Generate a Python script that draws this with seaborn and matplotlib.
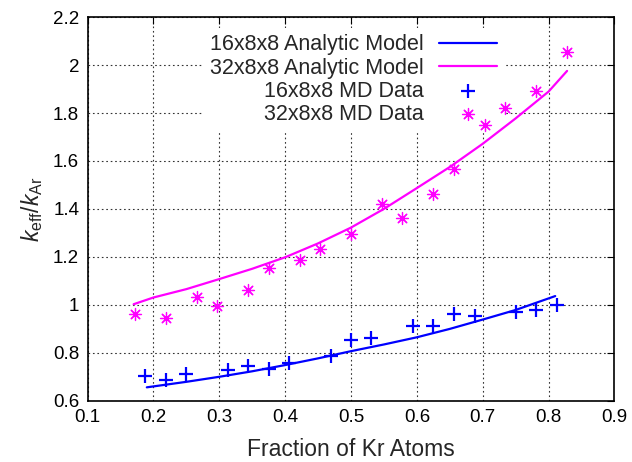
import matplotlib
matplotlib.use("Agg")
import matplotlib.pyplot as plt
import seaborn as sns
import pandas as pd

# Analytic model curves
model16_x = [0.19, 0.25, 0.30, 0.35, 0.40, 0.45, 0.50, 0.55, 0.60, 0.65, 0.70, 0.75, 0.81]
model16_y = [0.655, 0.678, 0.699, 0.722, 0.748, 0.776, 0.806, 0.834, 0.864, 0.899, 0.938, 0.978, 1.036]

model32_x = [0.17, 0.20, 0.25, 0.30, 0.35, 0.40, 0.45, 0.50, 0.55, 0.60, 0.65, 0.70, 0.75, 0.80, 0.828]
model32_y = [1.002, 1.03, 1.065, 1.107, 1.15, 1.198, 1.256, 1.322, 1.40, 1.487, 1.575, 1.672, 1.778, 1.89, 1.976]

# MD simulation results
md16_x = [0.1875, 0.219, 0.25, 0.3125, 0.344, 0.375, 0.406, 0.469, 0.50, 0.531,
          0.594, 0.625, 0.656, 0.6875, 0.75, 0.781, 0.8125]
md16_y = [0.702, 0.686, 0.711, 0.727, 0.744, 0.730, 0.755, 0.786, 0.853, 0.862,
          0.911, 0.912, 0.960, 0.954, 0.968, 0.978, 0.999]

md32_x = [0.172, 0.219, 0.266, 0.297, 0.344, 0.375, 0.422, 0.453, 0.50, 0.547,
          0.578, 0.625, 0.656, 0.703, 0.734, 0.781, 0.828]
md32_y = [0.960, 0.943, 1.031, 0.995, 1.062, 1.154, 1.187, 1.233, 1.294, 1.420,
          1.362, 1.461, 1.565, 1.750, 1.822, 1.892, 2.055]

labels = ["16x8x8 Analytic Model", "32x8x8 Analytic Model",
          "16x8x8 MD Data", "32x8x8 MD Data"]
blue = "#0000ff"
magenta = "#ff00ff"

sns.set_theme(style="white")
plt.rcParams["font.family"] = ["Liberation Sans", "DejaVu Sans"]
plt.rcParams["mathtext.fontset"] = "custom"
plt.rcParams["mathtext.rm"] = "Liberation Sans"
plt.rcParams["mathtext.it"] = "Liberation Sans:italic"

fig = plt.figure(figsize=(6.32, 4.62), dpi=100)
ax = fig.add_axes([0.1385, 0.1331, 0.8338, 0.8295])

m16 = pd.DataFrame({"x": model16_x, "y": model16_y})
m32 = pd.DataFrame({"x": model32_x, "y": model32_y})
d16 = pd.DataFrame({"x": md16_x, "y": md16_y})
d32 = pd.DataFrame({"x": md32_x, "y": md32_y})

sns.lineplot(data=m16, x="x", y="y", ax=ax, color=blue, lw=1.6, sort=False,
             estimator=None, label=labels[0], zorder=3)
sns.lineplot(data=m32, x="x", y="y", ax=ax, color=magenta, lw=1.6, sort=False,
             estimator=None, label=labels[1], zorder=3)
sns.scatterplot(data=d16, x="x", y="y", ax=ax, marker="+", s=90, color=blue,
                linewidth=1.6, label=labels[2], zorder=4)
sns.scatterplot(data=d32, x="x", y="y", ax=ax, marker=(8, 2, 0), s=75, color=magenta,
                linewidth=0.9, label=labels[3], zorder=4)

ax.set_xlim(0.1, 0.9)
ax.set_ylim(0.6, 2.2)
ax.set_xticks([0.1, 0.2, 0.3, 0.4, 0.5, 0.6, 0.7, 0.8, 0.9])
ax.set_xticklabels(["0.1", "0.2", "0.3", "0.4", "0.5", "0.6", "0.7", "0.8", "0.9"])
ax.set_yticks([0.6, 0.8, 1.0, 1.2, 1.4, 1.6, 1.8, 2.0, 2.2])
ax.set_yticklabels(["0.6", "0.8", "1", "1.2", "1.4", "1.6", "1.8", "2", "2.2"])

ax.grid(True, color="#333333", lw=0.8, linestyle=(0, (1.5, 2.5)))
ax.tick_params(direction="in", length=5, width=0.8, colors="black",
               labelsize=13.5, top=True, right=True, pad=6)
for s in ax.spines.values():
    s.set_color("black")
    s.set_linewidth(1.2)

ax.set_xlabel("Fraction of Kr Atoms", fontsize=16.5, labelpad=9)
ax.set_ylabel(r"$k_{\rm eff}/k_{\rm Ar}$", fontsize=16.5, labelpad=6)

handles, lbls = ax.get_legend_handles_labels()
leg = ax.legend(handles, lbls, loc="upper right", bbox_to_anchor=(0.79, 0.972),
                markerfirst=False, fontsize=15.5, frameon=True, fancybox=False,
                facecolor="white", edgecolor="none", framealpha=1.0,
                handlelength=2.7, handletextpad=0.7, labelspacing=0.1,
                borderpad=0.3, borderaxespad=0.0)
# key box hides the grid but stays under the data
leg.set_zorder(2.5)
for col in leg._legend_handle_box.get_children():
    col.align = "right"

fig.savefig("out.png", dpi=100)
